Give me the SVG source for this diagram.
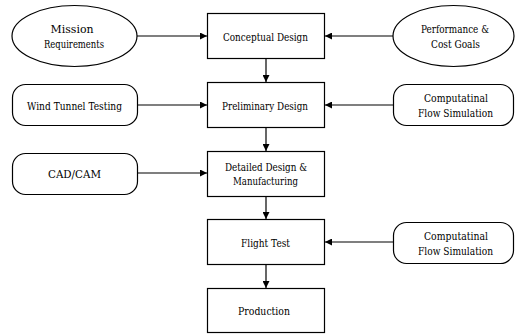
<svg xmlns="http://www.w3.org/2000/svg" width="515" height="334" viewBox="0 0 515 334">
<style>
.n{fill:#fff;stroke:#000;stroke-width:1.2}
text{font-family:'DejaVu Serif',serif;font-size:11.5px;fill:#000;text-anchor:middle}
.c{stroke:#000;stroke-width:1.2;fill:none;marker-end:url(#ah)}
</style>
<defs>
<marker id="ah" viewBox="0 0 10 10" refX="10" refY="5" markerWidth="7" markerHeight="7" markerUnits="userSpaceOnUse" orient="auto">
<path d="M0,0 L10,5 L0,10 z" fill="#000"/>
</marker>
</defs>
<rect width="515" height="334" fill="#fff"/>
<g id="connectors">
<line class="c" x1="137" y1="36" x2="207" y2="36"/>
<line class="c" x1="393" y1="36" x2="325" y2="36"/>
<line class="c" x1="266" y1="58" x2="266" y2="82"/>
<line class="c" x1="137" y1="105" x2="207" y2="105"/>
<line class="c" x1="393" y1="105" x2="325" y2="105"/>
<line class="c" x1="266" y1="127" x2="266" y2="151"/>
<line class="c" x1="137" y1="173" x2="207" y2="173"/>
<line class="c" x1="266" y1="196" x2="266" y2="219"/>
<line class="c" x1="393" y1="242" x2="325" y2="242"/>
<line class="c" x1="266" y1="264" x2="266" y2="288"/>
</g>
<g id="mission">
<ellipse class="n" cx="74.5" cy="36" rx="62.5" ry="30.5"/>
<text x="72" y="33" textLength="43" lengthAdjust="spacingAndGlyphs">Mission</text>
<text x="74" y="47.5" textLength="60" lengthAdjust="spacingAndGlyphs">Requirements</text>
</g>
<g id="conceptual">
<rect class="n" x="207.5" y="13.5" width="117" height="45"/>
<text x="265.5" y="41" textLength="85" lengthAdjust="spacingAndGlyphs">Conceptual Design</text>
</g>
<g id="performance">
<ellipse class="n" cx="453.5" cy="36" rx="60.5" ry="30.5"/>
<text x="455" y="33" textLength="68" lengthAdjust="spacingAndGlyphs">Performance &amp;</text>
<text x="455.5" y="47.5" textLength="49" lengthAdjust="spacingAndGlyphs">Cost Goals</text>
</g>
<g id="windtunnel">
<rect class="n" x="12.5" y="84.5" width="125" height="41" rx="13"/>
<text x="74.5" y="109.5" textLength="95" lengthAdjust="spacingAndGlyphs">Wind Tunnel Testing</text>
</g>
<g id="preliminary">
<rect class="n" x="207.5" y="82.5" width="117" height="45"/>
<text x="265" y="109.5" textLength="86" lengthAdjust="spacingAndGlyphs">Preliminary Design</text>
</g>
<g id="cfd1">
<rect class="n" x="393.5" y="84.5" width="120" height="41" rx="13"/>
<text x="456" y="102" textLength="64" lengthAdjust="spacingAndGlyphs">Computatinal</text>
<text x="455.5" y="116.5" textLength="75" lengthAdjust="spacingAndGlyphs">Flow Simulation</text>
</g>
<g id="cadcam">
<rect class="n" x="12.5" y="153.5" width="125" height="41" rx="13"/>
<text x="74.5" y="178" textLength="53" lengthAdjust="spacingAndGlyphs">CAD/CAM</text>
</g>
<g id="detailed">
<rect class="n" x="207.5" y="151.5" width="117" height="45"/>
<text x="266" y="170.5" textLength="82" lengthAdjust="spacingAndGlyphs">Detailed Design &amp;</text>
<text x="265.5" y="185" textLength="65" lengthAdjust="spacingAndGlyphs">Manufacturing</text>
</g>
<g id="flighttest">
<rect class="n" x="207.5" y="219.5" width="117" height="45"/>
<text x="265.5" y="246.5" textLength="49" lengthAdjust="spacingAndGlyphs">Flight Test</text>
</g>
<g id="cfd2">
<rect class="n" x="393.5" y="222.5" width="120" height="41" rx="13"/>
<text x="456" y="240" textLength="64" lengthAdjust="spacingAndGlyphs">Computatinal</text>
<text x="455.5" y="254.5" textLength="75" lengthAdjust="spacingAndGlyphs">Flow Simulation</text>
</g>
<g id="production">
<rect class="n" x="207.5" y="288.5" width="117" height="44"/>
<text x="264" y="315" textLength="52" lengthAdjust="spacingAndGlyphs">Production</text>
</g>
</svg>
